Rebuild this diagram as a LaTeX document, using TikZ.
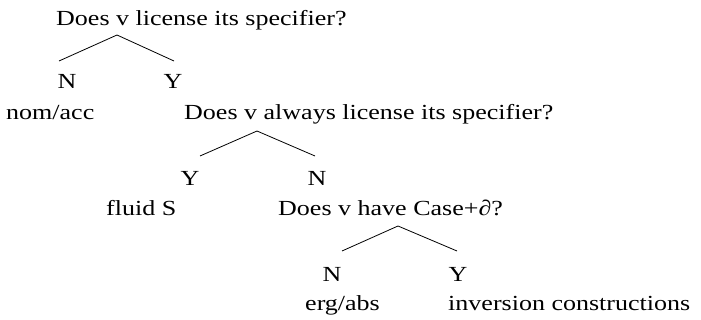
\documentclass[tikz,border=0pt]{standalone}
\usepackage{fontspec}
\setmainfont{Liberation Serif}[FakeStretch=1.21]
\begin{document}
\begin{tikzpicture}[x=1pt,y=-1pt,
  txt/.style={inner sep=0pt,anchor=base west,font=\fontsize{21.5}{25}\selectfont},
  lbl/.style={inner sep=0pt,anchor=base,font=\fontsize{21.5}{25}\selectfont},
  branch/.style={line width=0.8pt}]
\useasboundingbox (0,0) rectangle (701,320);
% level 1
\node[txt] (q1) at (56,26) {Does v license its specifier?};
\coordinate (a1) at (117,35);
\coordinate (l1) at (59,61);
\coordinate (r1) at (174,61);
\draw[branch] (l1) -- (a1) -- (r1);
\node[lbl] (n1) at (67,89) {N};
\node[lbl] (y1) at (173,89) {Y};
\node[txt] (nomacc) at (6,120) {nom/acc};
% level 2
\node[txt] (q2) at (184,120) {Does v always license its specifier?};
\coordinate (a2) at (257,131);
\coordinate (l2) at (200,156);
\coordinate (r2) at (315,156);
\draw[branch] (l2) -- (a2) -- (r2);
\node[lbl] (y2) at (190,186) {Y};
\node[lbl] (n2) at (317,186) {N};
\node[txt] (fluid) at (106,216) {fluid S};
% level 3
\node[txt] (q3) at (278,216) {Does v have Case+∂?};
\coordinate (a3) at (398,226);
\coordinate (l3) at (342,251);
\coordinate (r3) at (457,251);
\draw[branch] (l3) -- (a3) -- (r3);
\node[lbl] (n3) at (332,281) {N};
\node[lbl] (y3) at (458,281) {Y};
\node[txt] (ergabs) at (305,310) {erg/abs};
\node[txt] (inv) at (448,310) {inversion constructions};
\end{tikzpicture}
\end{document}
